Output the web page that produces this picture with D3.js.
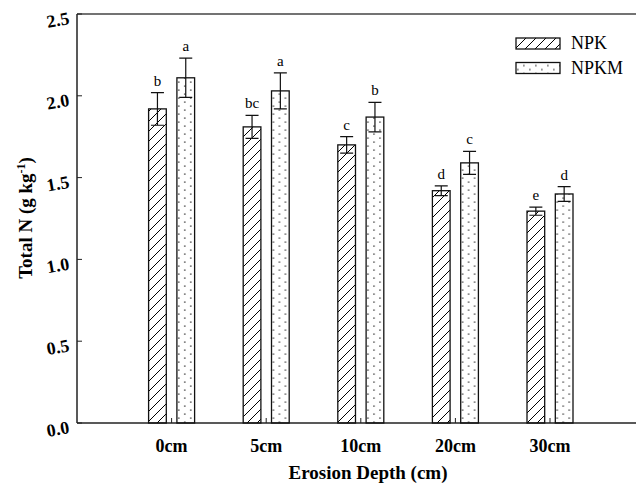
<!DOCTYPE html>
<html>
<head>
<meta charset="utf-8">
<script src="https://cdn.jsdelivr.net/npm/d3@7"></script>
<style>
  body { margin: 0; background: #fff; }
  svg { display: block; }
  text { font-family: "Liberation Serif", "Times New Roman", serif; }
</style>
</head>
<body>
<svg id="chart"></svg>
<script>
const depths = ['0cm', '5cm', '10cm', '20cm', '30cm']
const series = ['NPK', 'NPKM']
const npk = [1.92, 1.81, 1.70, 1.42, 1.295]
const npkErr = [0.10, 0.07, 0.05, 0.03, 0.025]
const npkLetters = ['b', 'bc', 'c', 'd', 'e']
const npkm = [2.11, 2.03, 1.87, 1.59, 1.40]
const npkmErr = [0.12, 0.11, 0.09, 0.07, 0.045]
const npkmLetters = ['a', 'a', 'b', 'c', 'd']
const yTicks = [0, 0.5, 1.0, 1.5, 2.0, 2.5]

const W = 636, H = 483
const pd = { top: 14, left: 77, bottom: 60 }

const rows = []
depths.forEach((d, i) => {
  rows.push({ depth: d, s: 'NPK', v: npk[i], e: npkErr[i], l: npkLetters[i] })
  rows.push({ depth: d, s: 'NPKM', v: npkm[i], e: npkmErr[i], l: npkmLetters[i] })
})

const svg = d3.select('#chart').attr('width', W).attr('height', H)
const defs = svg.append('defs')

const hatch = defs.append('pattern')
  .attr('id', 'hatch')
  .attr('patternUnits', 'userSpaceOnUse')
  .attr('width', 10).attr('height', 10)
hatch.append('path')
  .attr('d', 'M-2,2 L2,-2 M0,10 L10,0 M8,12 L12,8')
  .attr('stroke', '#000').attr('stroke-width', 1)

function dots(id, x0, y0) {
  const p = defs.append('pattern')
    .attr('id', id)
    .attr('patternUnits', 'userSpaceOnUse')
    .attr('x', x0).attr('y', y0)
    .attr('width', 12).attr('height', 8)
  p.append('rect').attr('x', 1.3).attr('y', 1.5).attr('width', 1.2).attr('height', 1.2).attr('fill', '#000')
  p.append('rect').attr('x', 7.3).attr('y', 5.5).attr('width', 1.2).attr('height', 1.2).attr('fill', '#000')
}

const x = d3.scalePoint()
  .domain(depths)
  .range([pd.left, pd.left + 6 * 94.6])
  .padding(1)

const xs = d3.scaleBand()
  .domain(series)
  .range([-23, 23])
  .paddingInner(0.375)

const y = d3.scaleLinear()
  .domain([0, 2.5])
  .range([H - pd.bottom, pd.top])

// frame
const axisCol = '#444'
svg.append('line')
  .attr('x1', pd.left).attr('x2', W)
  .attr('y1', y(2.5)).attr('y2', y(2.5))
  .attr('stroke', axisCol).attr('stroke-width', 1.5)
svg.append('line')
  .attr('x1', pd.left).attr('x2', W)
  .attr('y1', y(0)).attr('y2', y(0))
  .attr('stroke', '#222').attr('stroke-width', 1.5)
svg.append('line')
  .attr('x1', pd.left).attr('x2', pd.left)
  .attr('y1', y(2.5)).attr('y2', y(0))
  .attr('stroke', '#222').attr('stroke-width', 1.5)

// y ticks
const yt = svg.append('g').selectAll('g')
  .data(yTicks)
  .enter()
  .append('g')
yt.append('line')
  .attr('x1', pd.left).attr('x2', pd.left + 5)
  .attr('y1', d => y(d)).attr('y2', d => y(d))
  .attr('stroke', '#222').attr('stroke-width', 1)
yt.append('text')
  .attr('transform', d => `translate(${pd.left - 7}, ${y(d) + 10}) rotate(-10)`)
  .attr('text-anchor', 'end')
  .attr('font-size', 18)
  .attr('font-weight', 'bold')
  .text(d => d3.format('.1f')(d))

// x ticks + labels
const xt = svg.append('g').selectAll('g')
  .data(depths)
  .enter()
  .append('g')
xt.append('line')
  .attr('x1', d => x(d)).attr('x2', d => x(d))
  .attr('y1', y(0)).attr('y2', y(0) - 5)
  .attr('stroke', '#222').attr('stroke-width', 1)
xt.append('text')
  .attr('x', d => x(d))
  .attr('y', 452)
  .attr('text-anchor', 'middle')
  .attr('font-size', 18)
  .attr('font-weight', 'bold')
  .text(d => d)

// bars
rows.forEach((r, i) => {
  if (r.s === 'NPKM') dots('dots' + i, x(r.depth) + xs(r.s), 0)
})
const bars = svg.append('g').selectAll('g')
  .data(rows)
  .enter()
  .append('g')
bars.append('rect')
  .attr('x', d => x(d.depth) + xs(d.s))
  .attr('y', d => y(d.v))
  .attr('width', xs.bandwidth())
  .attr('height', d => y(0) - y(d.v))
  .attr('fill', (d, i) => d.s === 'NPK' ? 'url(#hatch)' : `url(#dots${i})`)
  .attr('stroke', '#111')
  .attr('stroke-width', 1.3)
const cx = d => x(d.depth) + xs(d.s) + xs.bandwidth() / 2
bars.append('path')
  .attr('d', d => {
    const c = cx(d), t = y(d.v + d.e), b = y(d.v - d.e)
    return `M${c - 6.5},${t} H${c + 6.5} M${c},${t} V${b} M${c - 6.5},${b} H${c + 6.5}`
  })
  .attr('fill', 'none')
  .attr('stroke', '#111')
  .attr('stroke-width', 1.2)
bars.append('text')
  .attr('x', cx)
  .attr('y', d => y(d.v + d.e) - 7)
  .attr('text-anchor', 'middle')
  .attr('font-size', 15)
  .text(d => d.l)

// axis titles
svg.append('text')
  .attr('x', 368).attr('y', 479)
  .attr('text-anchor', 'middle')
  .attr('font-size', 19)
  .attr('font-weight', 'bold')
  .text('Erosion Depth (cm)')

const yl = svg.append('text')
  .attr('transform', `translate(32, 218) rotate(-90)`)
  .attr('text-anchor', 'middle')
  .attr('font-size', 19)
  .attr('font-weight', 'bold')
yl.append('tspan').text('Total N (g kg')
yl.append('tspan').attr('dy', -7).attr('font-size', 12).text('-1')
yl.append('tspan').attr('dy', 7).text(')')

// legend
dots('dotsLeg', 516, 61)
const leg = svg.append('g').selectAll('g')
  .data(series)
  .enter()
  .append('g')
  .attr('transform', (d, i) => `translate(516, ${38 + i * 24.5})`)
leg.append('rect')
  .attr('width', 44).attr('height', 11)
  .attr('fill', d => d === 'NPK' ? 'url(#hatch)' : 'url(#dotsLeg)')
  .attr('stroke', '#111').attr('stroke-width', 1.3)
leg.append('text')
  .attr('x', 55).attr('y', 11)
  .attr('font-size', 18)
  .text(d => d)
</script>
</body>
</html>
